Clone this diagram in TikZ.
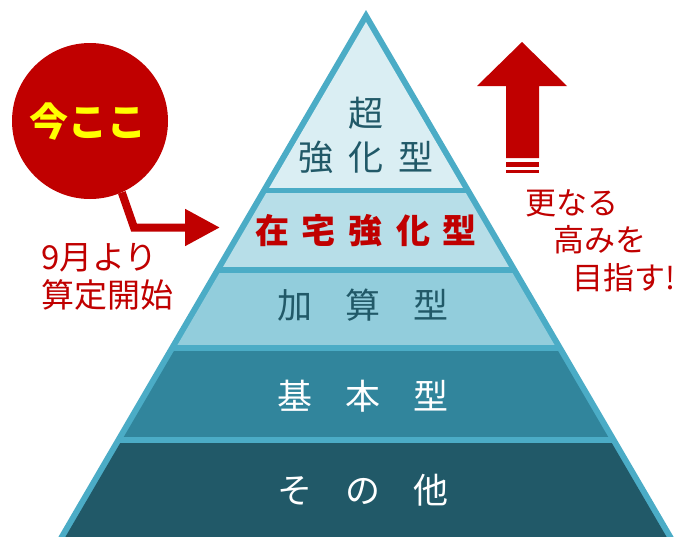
\documentclass[tikz,border=0pt]{standalone}
\usepackage{fontspec}
\setmainfont{Noto Sans CJK JP}
\usetikzlibrary{arrows.meta}
\definecolor{outl}{HTML}{4BACC6}
\definecolor{bandA}{HTML}{DAEEF3}
\definecolor{bandB}{HTML}{B7DEE8}
\definecolor{bandC}{HTML}{92CDDC}
\definecolor{bandD}{HTML}{31859C}
\definecolor{bandE}{HTML}{215968}
\definecolor{dk}{HTML}{215968}
\definecolor{rd}{HTML}{C00000}
\definecolor{yl}{HTML}{FFFF00}
\begin{document}
\begin{tikzpicture}[x=1pt,y=-1pt,
  lbl/.style={inner sep=0pt, font=\fontsize{35}{37}\selectfont},
  side/.style={inner sep=0pt, text=rd, font=\fontsize{31}{33}\selectfont},
]
\useasboundingbox (0,0) rectangle (691,536);
\fill[white] (0,0) rectangle (691,536);
% pyramid outline
\fill[outl] (366,10) -- (53.1,546) -- (678.9,546) -- cycle;
\begin{scope}
  \clip (366,22) -- (60.1,546) -- (671.9,546) -- cycle;
  \fill[bandA] (0,0) rectangle (691,188);
  \fill[bandB] (0,193) rectangle (691,267);
  \fill[bandC] (0,273) rectangle (691,345);
  \fill[bandD] (0,351) rectangle (691,437);
  \fill[bandE] (0,443) rectangle (691,560);
\end{scope}
% band labels
\node[lbl, text=dk] (t1) at (366,113) {超};
\node[lbl, text=dk] (t2) at (366,157) {強\hspace{15pt}化\hspace{15pt}型};
\node[lbl, text=rd, font=\fontsize{34}{36}\selectfont\bfseries] (t3) at (366,231) {在\hspace{13pt}宅\hspace{13pt}強\hspace{13pt}化\hspace{13pt}型};
\node[lbl, text=dk] (t4) at (363,305) {加\hspace{33pt}算\hspace{33pt}型};
\node[lbl, text=white] (t5) at (363,396) {基\hspace{33pt}本\hspace{33pt}型};
\node[lbl, text=white] (t6) at (363,490) {そ\hspace{33pt}の\hspace{33pt}他};
% red circle
\node[circle, fill=rd, minimum size=156pt, inner sep=0pt] (circ) at (90,121) {};
\node[inner sep=0pt, text=yl, font=\fontsize{39}{41}\selectfont\bfseries] (now) at (88,122) {今ここ};
\coordinate (tgt) at (220,227.5);
\draw[rd, line width=8pt, line join=miter, -{Triangle[length=35pt,width=35pt]}] (circ.-66.7) -- (134,227.5) -- (tgt);
\node[side, anchor=west, font=\fontsize{33}{35}\selectfont] (l1) at (41,258) {9月より};
\node[side, anchor=west, font=\fontsize{33}{35}\selectfont] (l2) at (41,295) {算定開始};
% up arrow
\fill[rd] (522,42) -- (567,86) -- (539,86) -- (539,158) -- (506,158) -- (506,86) -- (477,86) -- cycle;
\fill[rd] (506,162) rectangle (539,167);
\fill[rd] (506,170) rectangle (539,173);
\node[side] (r1) at (572,203) {更なる};
\node[side] (r2) at (600,240) {高みを};
\node[side] (r3) at (624,278) {目指す!};
\end{tikzpicture}
\end{document}
